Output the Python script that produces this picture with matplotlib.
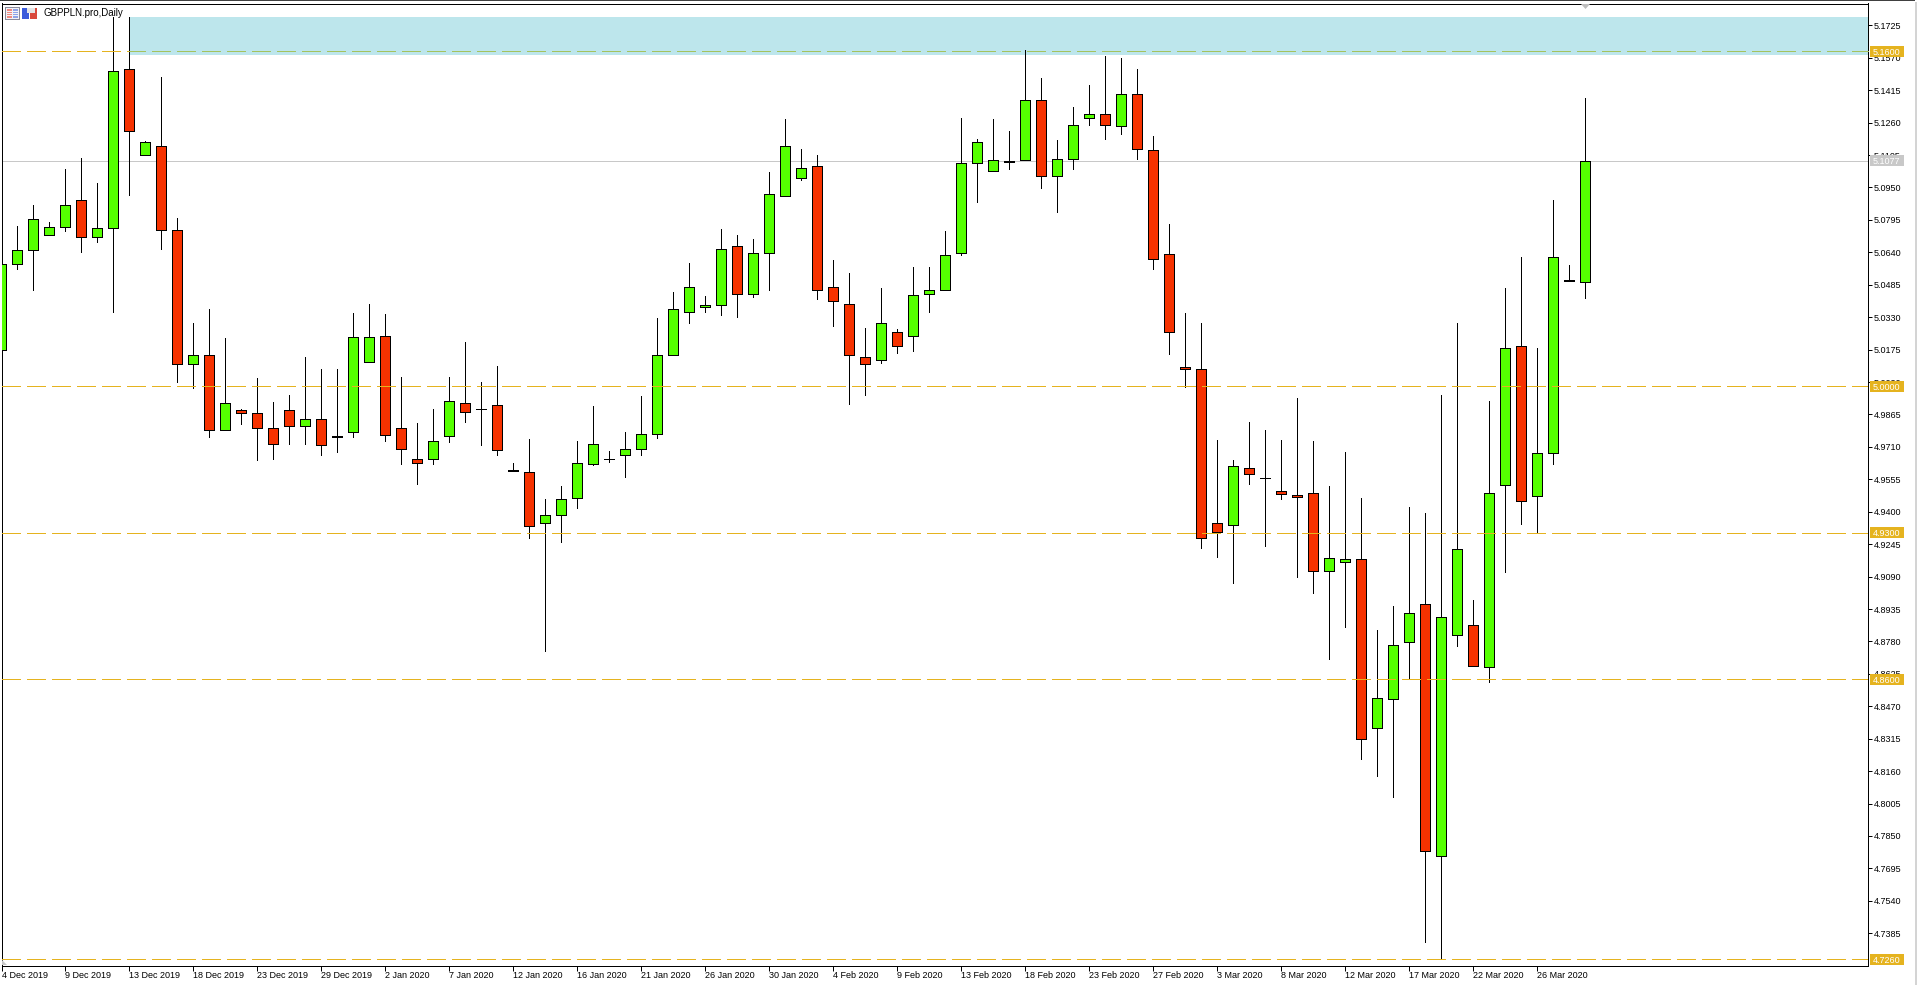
import matplotlib
matplotlib.use("Agg")
import matplotlib.pyplot as plt
from matplotlib.patches import Rectangle, Polygon

W, H = 1917, 985
plt.rcParams['lines.scale_dashes'] = False
plt.rcParams['font.family'] = ['Liberation Sans', 'DejaVu Sans']

symbol = "GBPPLN.pro,Daily"

opens = [5.0175,5.0586,5.0649,5.0723,5.0763,5.0888,5.0715,5.0758,5.1514,5.1107,
         5.1150,5.0749,5.0104,5.0147,4.9793,4.9884,4.9874,4.9802,4.9884,4.9812,
         4.9841,4.9755,4.9783,5.0118,5.0242,4.9802,4.9650,4.9654,4.9764,4.9922,
         4.9889,4.9912,4.9600,4.9592,4.9348,4.9382,4.9468,4.9630,4.9653,4.9671,
         4.9699,4.9770,5.0147,5.0357,5.0381,5.0390,5.0672,5.0443,5.0639,5.0911,
         5.0993,5.1055,5.0472,5.0395,5.0142,5.0123,5.0257,5.0242,5.0443,5.0462,
         5.0639,5.1069,5.1031,5.1073,5.1079,5.1366,5.1007,5.1084,5.1280,5.1303,
         5.1246,5.1399,5.1131,5.0634,5.0094,5.0080,4.9347,4.9338,4.9611,4.9563,
         4.9500,4.9481,4.9491,4.9119,4.9158,4.9172,4.8365,4.8504,4.8775,4.8961,
         4.7753,4.8812,4.8860,4.8657,4.9530,5.0194,4.9473,4.9683,5.0510,5.0500]
highs = [5.0586,5.0765,5.0865,5.0784,5.1037,5.1090,5.0970,5.1764,5.1764,5.1171,
         5.1477,5.0803,5.0301,5.0368,5.0229,4.9889,5.0038,4.9923,4.9957,5.0139,
         5.0081,5.0081,5.0349,5.0392,5.0344,5.0043,4.9823,4.9890,5.0043,5.0210,
         5.0019,5.0096,4.9635,4.9747,4.9463,4.9525,4.9737,4.9904,4.9689,4.9782,
         4.9952,5.0325,5.0449,5.0588,5.0430,5.0750,5.0722,5.0703,5.1023,5.1276,
         5.1133,5.1104,5.0602,5.0540,5.0277,5.0468,5.0272,5.0569,5.0569,5.0741,
         5.1281,5.1181,5.1276,5.1219,5.1606,5.1472,5.1176,5.1334,5.1439,5.1577,
         5.1568,5.1515,5.1195,5.0774,5.0349,5.0301,4.9742,4.9646,4.9827,4.9789,
         4.9742,4.9942,4.9737,4.9522,4.9684,4.9465,4.8835,4.8949,4.9421,4.9394,
         4.9957,5.0301,4.8978,4.9928,5.0468,5.0617,5.0182,5.0889,5.0578,5.1377]
lows = [5.0175,5.0561,5.0460,5.0723,5.0742,5.0642,5.0690,5.0355,5.0914,5.1107,
        5.0656,5.0020,4.9992,4.9758,4.9793,4.9820,4.9648,4.9652,4.9724,4.9724,
        4.9672,4.9686,4.9758,5.0118,4.9738,4.9628,4.9533,4.9628,4.9734,4.9829,
        4.9719,4.9672,4.9595,4.9275,4.8735,4.9256,4.9418,4.9622,4.9637,4.9566,
        4.9670,4.9753,5.0147,5.0302,5.0355,5.0341,5.0331,5.0427,5.0460,5.0911,
        5.0986,5.0417,5.0288,4.9915,4.9958,5.0113,5.0161,5.0169,5.0355,5.0462,
        5.0628,5.0881,5.1031,5.1039,5.1079,5.0948,5.0833,5.1039,5.1249,5.1182,
        5.1206,5.1086,5.0561,5.0156,4.9998,4.9227,4.9185,4.9061,4.9533,4.9235,
        4.9462,4.9088,4.9013,4.8694,4.8850,4.8216,4.8138,4.8037,4.8605,4.7345,
        4.7267,4.8760,4.8661,4.8587,4.9113,4.9340,4.9302,4.9628,5.0505,5.0422]
closes = [5.0586,5.0649,5.0797,5.0763,5.0868,5.0711,5.0754,5.1509,5.1222,5.1165,
          5.0749,5.0104,5.0147,4.9793,4.9922,4.9872,4.9798,4.9726,4.9812,4.9841,
          4.9721,4.9760,5.0233,5.0237,4.9769,4.9702,4.9635,4.9736,4.9927,4.9879,
          4.9889,4.9697,4.9595,4.9334,4.9382,4.9463,4.9635,4.9726,4.9653,4.9700,
          4.9770,5.0147,5.0367,5.0472,5.0390,5.0658,5.0443,5.0639,5.0921,5.1146,
          5.1041,5.0462,5.0405,5.0147,5.0108,5.0300,5.0194,5.0438,5.0462,5.0629,
          5.1069,5.1165,5.1079,5.1077,5.1370,5.1007,5.1084,5.1251,5.1299,5.1251,
          5.1399,5.1136,5.0610,5.0257,5.0080,4.9276,4.9305,4.9620,4.9578,4.9563,
          4.9483,4.9471,4.9119,4.9181,4.9172,4.8312,4.8508,4.8765,4.8918,4.7776,
          4.8895,4.9220,4.8661,4.9491,5.0185,4.9449,4.9683,5.0620,5.0505,5.1077]

date_labels = ["4 Dec 2019","9 Dec 2019","13 Dec 2019","18 Dec 2019","23 Dec 2019","29 Dec 2019",
               "2 Jan 2020","7 Jan 2020","12 Jan 2020","16 Jan 2020","21 Jan 2020","26 Jan 2020",
               "30 Jan 2020","4 Feb 2020","9 Feb 2020","13 Feb 2020","18 Feb 2020","23 Feb 2020",
               "27 Feb 2020","3 Mar 2020","8 Mar 2020","12 Mar 2020","17 Mar 2020","22 Mar 2020","26 Mar 2020"]
date_positions = list(range(0, 100, 4))

price_ticks = [5.1725,5.1570,5.1415,5.1260,5.1105,5.0950,5.0795,5.0640,5.0485,5.0330,5.0175,5.0020,
               4.9865,4.9710,4.9555,4.9400,4.9245,4.9090,4.8935,4.8780,4.8625,4.8470,4.8315,4.8160,
               4.8005,4.7850,4.7695,4.7540,4.7385]
level_prices = [5.16, 5.0, 4.93, 4.86, 4.726]
last_price = 5.1077
zone_top, zone_bottom = 5.1764, 5.1584
zone_start = 8

GREEN, RED = "#55FF00", "#F63200"
YELLOW, GRAY, ZONE = "#E5B31F", "#C8C8C8", "#BDE6EC"
PX = 0.72
X0, X1 = 0.03125, 116.65625

fig = plt.figure(figsize=(W/100, H/100), dpi=100, facecolor="white")
ax = fig.add_axes([1.5/W, 1-965.5/H, 1866/W, 962/H])
ax.set_xlim(X0, X1)
ax.set_ylim(4.72309, 5.18294)

ax.axhspan(zone_bottom, zone_top, xmin=(zone_start+0.02-X0)/(X1-X0), xmax=1, color=ZONE, lw=0, zorder=1)
ax.axhline(last_price, color=GRAY, lw=PX, antialiased=False, zorder=1.5)

xs = list(range(len(opens)))
ax.vlines(xs, lows, highs, color="black", lw=PX, antialiased=False, zorder=2)
cols = [GREEN if c >= o else RED for o, c in zip(opens, closes)]
ax.bar(xs, [abs(c-o) for o, c in zip(opens, closes)], bottom=[min(o, c) for o, c in zip(opens, closes)],
       width=0.625, color=cols, edgecolor="black", linewidth=PX, antialiased=False, zorder=3)

for p in level_prices:
    ax.plot([X0, X1], [p, p], color=YELLOW, lw=PX, linestyle=(0, (12.96, 4.32)),
            dash_capstyle="butt", antialiased=False, zorder=4)
    if p == 5.16:
        l2, = ax.plot([X0, X1], [p, p], color="#A5C25E", lw=PX, linestyle=(0, (12.96, 4.32)),
                      dash_capstyle="butt", antialiased=False, zorder=4.1)
        l2.set_clip_path(Rectangle((zone_start, zone_bottom), 120, zone_top-zone_bottom, transform=ax.transData))

for s in ax.spines.values():
    s.set_linewidth(PX)
    s.set_color("black")
    s.set_antialiased(False)

ax.yaxis.tick_right()
ax.set_yticks(price_ticks)
ax.set_yticklabels([f"{v:.4f}" for v in price_ticks], fontsize=6.5)
ax.tick_params(axis="y", length=2.9, width=PX, pad=1.4)
ax.set_xticks(date_positions)
ax.set_xticklabels(date_labels, fontsize=6.5, ha="left")
ax.tick_params(axis="x", length=3.6, width=PX, pad=0.6)

# price badges on the right scale
ty = ax.get_yaxis_transform()
fx = lambda px: (px-1.5)/1866
bh = 11/2092
for p, c in [(v, YELLOW) for v in level_prices] + [(last_price, GRAY)]:
    ax.add_patch(Rectangle((fx(1870), p-bh/2), fx(1904)-fx(1870), bh, transform=ty, facecolor=c,
                           edgecolor="none", clip_on=False, zorder=10))
    ax.text(fx(1873), p, f"{p:.4f}", transform=ty, color="white", fontsize=6.5, va="center_baseline",
            ha="left", clip_on=False, zorder=11)

# figure furniture, placed in pixels
def box(x0, y0, x1, y1, **kw):
    fig.add_artist(Rectangle((x0/W, 1-y1/H), (x1-x0)/W, (y1-y0)/H, transform=fig.transFigure, lw=0, **kw))

def tri(pts, color):
    fig.add_artist(Polygon([(x/W, 1-y/H) for x, y in pts], closed=True, transform=fig.transFigure,
                           facecolor=color, edgecolor="none", zorder=12))

box(0, 0, 1915, 1, facecolor="#404040", zorder=12)
box(1915, 2, 1917, 985, facecolor="#D4D4D4", zorder=12)
tri([(1581, 4), (1590, 4), (1585.5, 9)], "#BEBEBE")
tri([(2, 960), (2, 965), (7, 965)], "#C8C8C8")

# toolbar icons
box(5, 7, 20, 20, facecolor="#8A8A9A", zorder=12)
box(6, 8, 19, 19, facecolor="#F2F2F6", zorder=12)
box(7, 9, 12, 18, facecolor="#F08A80", zorder=12)
box(13, 9, 18, 18, facecolor="#8FA4E8", zorder=12)
for yy in (11, 13, 15):
    box(7, yy, 18, yy+1, facecolor="#F2F2F6", zorder=12)
box(22, 8, 29, 19, facecolor="#3B5BDB", zorder=12)
box(30, 8, 37, 19, facecolor="#D9483B", zorder=12)
box(27, 8, 35, 13, facecolor="#E4E4E4", zorder=12)

fig.text(43/W, 1-13.5/H, symbol, fontsize=7.05, color="black", va="center", ha="left", zorder=12)

fig.savefig("out.png", dpi=100, facecolor="white")
